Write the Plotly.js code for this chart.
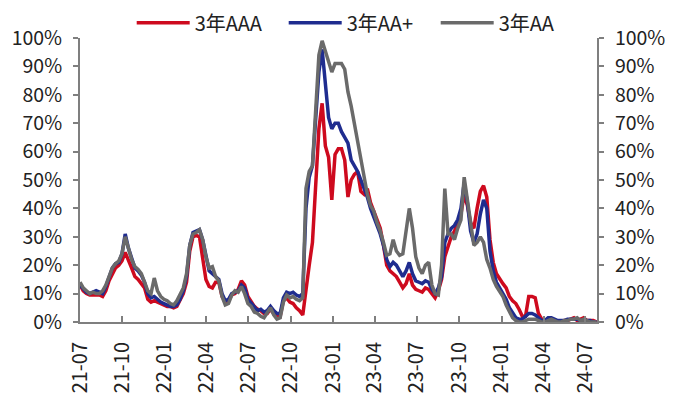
<!DOCTYPE html>
<html>
<head>
<meta charset="utf-8">
<script src="https://cdn.plot.ly/plotly-3.0.1.min.js"></script>
<style>
html,body{margin:0;padding:0;background:#fff;}
#chart{width:673px;height:399px;}
</style>
</head>
<body>
<div id="chart"></div>
<script>
// weekly observation grid starting date
const startDate = '2021-07-01';
const nPoints = 161;

const seriesNames = ['3年AAA', '3年AA+', '3年AA'];

const aaa = [13,11,10,9.5,9.5,9.5,9.5,9,11,14.5,
  17,19,20,21.5,24.5,22,19,16,15,13.5,
  12,8,7,7.5,7,6.5,6,5.5,5.5,5,
  5.5,7.5,10,14,25,30,30.5,30,22,15,
  12.5,12,14,14,9,7,7.5,9.5,10,11.5,
  14.5,13,9,7,5.5,4.5,4,3,3,4.5,
  3,2.5,2,7.5,8.5,7,6.5,5,4,2.5,
  12,20,28,50,68,77,62,58,43,59,
  61,61,57,44,50,52,53,46,45,47,
  42,39,36,33,27,20,18,17,16,14,
  12,13.5,17,13,11.5,11,10.5,12,11.5,10,
  8.5,11,15,23,27,30,32,35,38,45,
  41,35,33,40,46,48,44,29,21,17,
  15,13.5,12,9,7.5,6.5,4.5,2,2,9,
  9,8.5,3,1,0.5,0.5,0.5,0.5,0,0,
  0.5,0.5,1,1.5,0.5,1,1.5,0.5,0.5,0.5,
  0];

const aaPlus = [13,11.5,10.5,10,10.5,11,10.5,10,12.5,16,
  19,20.5,21,24,31,26,22,19,18,16.5,
  14,10,8.5,9,8,7,6.5,6,5.5,5.5,
  6,8,11,16,27,31.5,32,32.5,29,24,
  18,17,16,15,10,7.5,8,10,10.5,11,
  13,12,8,6.5,5,4,4.5,3.5,4,5.5,
  4,3,3,8.5,10.5,10,10.5,9.5,9,10,
  40,51,55,72,88,96,84,72,68,70,
  70,67,65,63,57,55,53,50,47,44,
  40,37,34,31,27,22,19.5,21,20,18,
  16,18,21,17,14.5,14,13.5,14.5,14,11.5,
  10,12,16,28,31,33,34,36,40,49,
  42,32,28,31,38,43,40,25,18,14,
  12,10,8,5,3,1.5,1,1,2,3,
  3,2.5,1.5,0.5,0.5,1.5,1.5,1,0.5,0.5,
  0.5,1,1,1,1,0.5,0.5,0.5,0.5,0,
  0];

const aa = [14,12,11,10,10.5,10,10,11,13,16.5,
  19,20.5,21.5,24,30,26,22,19.5,18.5,17,
  14,11,10,15.5,11,9,8,7.5,6.5,6,
  7.5,9.5,12,17,27,31,31.5,32.5,29,23,
  19,19.5,16,14.5,9,6,6.5,9.5,11,10.5,
  12.5,10,6.5,5.5,3.5,3,2,1.5,3,5,
  2.5,1,1.5,7,9.5,8.5,9,8,7.5,8.5,
  47,53,55,75,94,99,95,92,88,91,
  91,91,89,81,76,70,64,57,51,45,
  41,39,35,32,28,23.5,24,29,25,23.5,
  24,33,40,33,23,19,17,20,21,13,
  10,9.5,20,47,31,31,29,33,36,51,
  43,33,27,28,30,28,22,19,15,12.5,
  11,9,6,3.5,1.5,0.5,0,0,0.5,1,
  1,1,0.5,0,0,0.5,1,0.5,0,0,
  0.5,0.5,1,1,1.5,0.5,1,0.5,0,0,
  0];

const tickDates = ['2021-07-01','2021-10-01','2022-01-01','2022-04-01','2022-07-01','2022-10-01','2023-01-01','2023-04-01','2023-07-01','2023-10-01','2024-01-01','2024-04-01','2024-07-01'];
const tickLabels = ['21-07','21-10','22-01','22-04','22-07','22-10','23-01','23-04','23-07','23-10','24-01','24-04','24-07'];
const yTicks = [0,10,20,30,40,50,60,70,80,90,100];
const yTickLabels = ['0%','10%','20%','30%','40%','50%','60%','70%','80%','90%','100%'];

const colors = ['#CE0A1E', '#1F2C8F', '#6A6A6A'];

// build weekly dates
const dates = [];
const d0 = new Date(startDate + 'T00:00:00Z');
for (let i = 0; i < nPoints; i++) {
  const d = new Date(d0.getTime() + i * 7 * 86400000);
  dates.push(d.toISOString().slice(0, 10));
}

const font = '"Noto Sans CJK SC", "Liberation Sans", sans-serif';
const values = [aaa, aaPlus, aa];
const traces = values.map((v, i) => ({
  x: dates, y: v, type: 'scatter', mode: 'lines', name: seriesNames[i],
  line: {color: colors[i], width: 3.5}
}));
// right-axis companion (invisible)
traces.push({x: dates, y: aa, type: 'scatter', mode: 'lines', yaxis: 'y2',
  line: {color: 'rgba(0,0,0,0)', width: 0}, showlegend: false, hoverinfo: 'skip'});

const axisColor = '#7F7F7F';
const yCommon = {
  range: [0, 100], tickmode: 'array', tickvals: yTicks, ticktext: yTickLabels,
  showgrid: false, zeroline: false, showline: true, linecolor: axisColor, linewidth: 2,
  ticks: 'outside', ticklen: 5, tickwidth: 2, tickcolor: axisColor,
  tickfont: {family: font, size: 19.5, color: '#222'}, ticklabelstandoff: 7, fixedrange: true
};

const layout = {
  width: 673, height: 399,
  margin: {l: 80, r: 76, t: 38, b: 77, autoexpand: false},
  paper_bgcolor: '#fff', plot_bgcolor: '#fff',
  showlegend: true,
  legend: {orientation: 'h', x: 0.1, xanchor: 'left', y: 0.985, yanchor: 'bottom',
    font: {family: font, size: 20, color: '#222'}, itemwidth: 53,
    entrywidth: 84, entrywidthmode: 'pixels', bgcolor: 'rgba(0,0,0,0)'},
  xaxis: {
    type: 'date', range: ['2021-07-01', '2024-07-26'],
    tickmode: 'array', tickvals: tickDates, ticktext: tickLabels, tickangle: -90,
    showgrid: false, zeroline: false, showline: true, linecolor: axisColor, linewidth: 2,
    ticks: 'inside', ticklen: 6, tickwidth: 2, tickcolor: axisColor,
    tickfont: {family: font, size: 20, color: '#222'}, ticklabelstandoff: 10
  },
  yaxis: Object.assign({}, yCommon, {side: 'left'}),
  yaxis2: Object.assign({}, yCommon, {side: 'right', overlaying: 'y'})
};

Plotly.newPlot('chart', traces, layout, {staticPlot: true, displayModeBar: false});
</script>
</body>
</html>
